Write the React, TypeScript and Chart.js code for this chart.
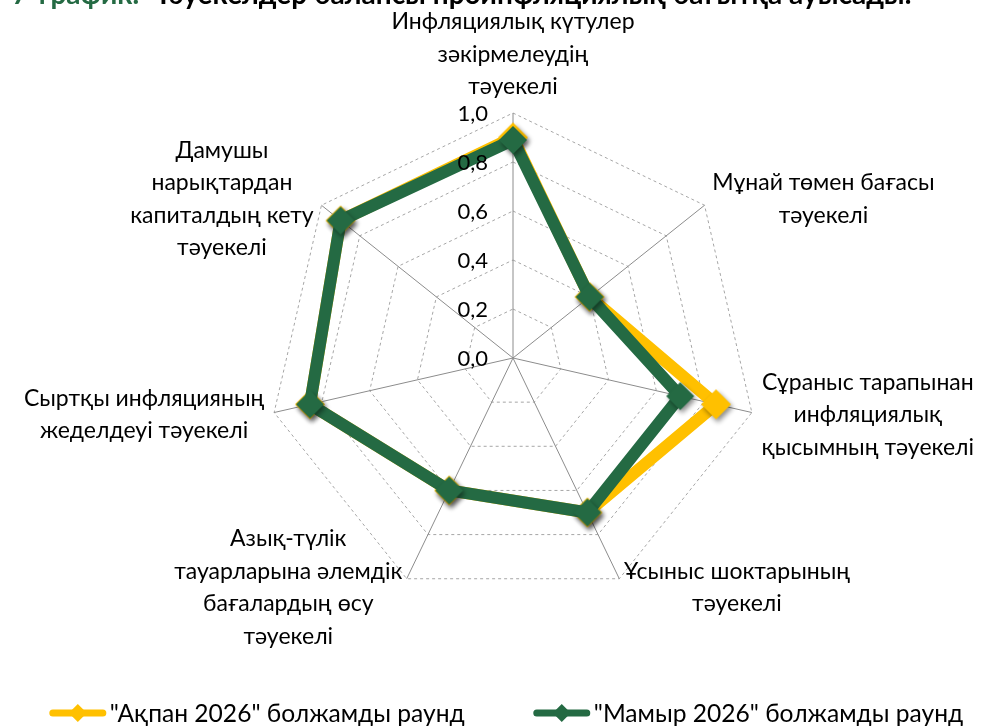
import React, { useEffect, useRef } from "react";
import { Chart, registerables } from "chart.js";

Chart.register(...registerables);

const categories: string[][] = [
  ["Инфляциялық күтулер", "зәкірмелеудің", "тәуекелі"],
  ["Мұнай төмен бағасы", "тәуекелі"],
  ["Сұраныс тарапынан", "инфляциялық", "қысымның тәуекелі"],
  ["Ұсыныс шоктарының", "тәуекелі"],
  ["Азық-түлік", "тауарларына әлемдік", "бағалардың өсу", "тәуекелі"],
  ["Сыртқы инфляцияның", "жеделдеуі тәуекелі"],
  ["Дамушы", "нарықтардан", "капиталдың кету", "тәуекелі"],
];
const seriesNames = ['"Ақпан 2026" болжамды раунд', '"Мамыр 2026" болжамды раунд'];
const februaryRound = [0.9, 0.4, 0.85, 0.7, 0.6, 0.85, 0.9];
const mayRound = [0.89, 0.4, 0.7, 0.7, 0.6, 0.85, 0.9];
const tickValues = [0, 0.2, 0.4, 0.6, 0.8, 1.0];
const titleNumber = "7-график.";
const titleText = "Тәуекелдер балансы проинфляциялық бағытқа ауысады.";

const FONT = "Lato";
const YELLOW = "#FFC000";
const GREEN = "#246A43";

function makeMarker(color: string, r: number): HTMLCanvasElement {
  const pad = 8;
  const c = document.createElement("canvas");
  c.width = (r + pad) * 2;
  c.height = (r + pad) * 2;
  const g = c.getContext("2d")!;
  const cx = c.width / 2;
  const cy = c.height / 2;
  g.shadowColor = "rgba(0,0,0,0.45)";
  g.shadowBlur = 5;
  g.shadowOffsetX = 2;
  g.shadowOffsetY = 3;
  g.fillStyle = color;
  g.beginPath();
  g.moveTo(cx, cy - r);
  g.lineTo(cx + r, cy);
  g.lineTo(cx, cy + r);
  g.lineTo(cx - r, cy);
  g.closePath();
  g.fill();
  return c;
}

const fmt = (v: number) => v.toFixed(1).replace(".", ",");

const drawPlugin = {
  id: "customText",
  afterDraw(chart: any) {
    const scale = chart.scales.r;
    const ctx: CanvasRenderingContext2D = chart.ctx;
    ctx.save();
    // tick labels
    ctx.font = `22px ${FONT}`;
    ctx.fillStyle = "#000";
    ctx.textAlign = "right";
    ctx.textBaseline = "middle";
    scale.ticks.forEach((t: any) => {
      const p = scale.getPointPositionForValue(0, t.value);
      ctx.fillText(fmt(t.value), scale.xCenter - 25, p.y + 1);
    });
    // point labels
    const labels: string[][] = chart.data.labels;
    const n = labels.length;
    const lh = 32.5;
    ctx.font = `23px ${FONT}`;
    ctx.textAlign = "center";
    ctx.textBaseline = "middle";
    labels.forEach((lines, i) => {
      const p = scale.getPointPosition(i, scale.drawingArea + 10);
      const ang = (i * 360) / n;
      const w = Math.max(...lines.map((l) => ctx.measureText(l).width));
      const h = lines.length * lh;
      let cx: number;
      let top: number;
      if (ang === 0) {
        cx = p.x;
        top = p.y - h;
      } else if (ang < 180) {
        cx = p.x + w / 2;
        top = p.y - h / 2;
      } else {
        cx = p.x - w / 2;
        top = p.y - h / 2;
      }
      lines.forEach((l, k) => ctx.fillText(l, cx, top + lh * (k + 0.5)));
    });
    // legend
    ctx.font = `24.6px ${FONT}`;
    ctx.textAlign = "left";
    ctx.textBaseline = "middle";
    const ds = chart.data.datasets;
    const iconW = 58;
    const gapIcon = 3;
    const itemGap = 68;
    const widths = ds.map((d: any) => iconW + gapIcon + ctx.measureText(d.label).width);
    const total = widths.reduce((a: number, b: number) => a + b, 0) + itemGap * (ds.length - 1);
    let x = 506 - total / 2;
    const y = 713;
    ds.forEach((d: any, i: number) => {
      ctx.strokeStyle = d.borderColor;
      ctx.lineWidth = 7;
      ctx.lineCap = "round";
      ctx.beginPath();
      ctx.moveTo(x + 4, y);
      ctx.lineTo(x + iconW - 4, y);
      ctx.stroke();
      ctx.fillStyle = d.borderColor;
      ctx.beginPath();
      ctx.moveTo(x + iconW / 2, y - 9);
      ctx.lineTo(x + iconW / 2 + 9, y);
      ctx.lineTo(x + iconW / 2, y + 9);
      ctx.lineTo(x + iconW / 2 - 9, y);
      ctx.closePath();
      ctx.fill();
      ctx.fillStyle = "#000";
      ctx.fillText(d.label, x + iconW + gapIcon, y + 1);
      x += widths[i] + itemGap;
    });
    // title (cut at top)
    ctx.font = `bold 28px ${FONT}`;
    ctx.textBaseline = "alphabetic";
    ctx.fillStyle = GREEN;
    ctx.fillText(titleNumber, 12, 4);
    ctx.fillStyle = "#000";
    ctx.fillText(titleText, 155, 4);
    ctx.restore();
  },
};

export default function App() {
  const ref = useRef<HTMLCanvasElement>(null);
  useEffect(() => {
    if (!ref.current) return;
    const chart = new Chart(ref.current, {
      type: "radar",
      data: {
        labels: categories,
        datasets: [
          {
            label: seriesNames[0],
            data: februaryRound,
            borderColor: YELLOW,
            backgroundColor: "transparent",
            borderWidth: 12,
            borderJoinStyle: "round",
            fill: false,
            pointStyle: makeMarker(YELLOW, 15) as any,
            pointRadius: 15,
            order: 1,
          },
          {
            label: seriesNames[1],
            data: mayRound,
            borderColor: GREEN,
            backgroundColor: "transparent",
            borderWidth: 12,
            borderJoinStyle: "round",
            fill: false,
            pointStyle: makeMarker(GREEN, 14) as any,
            pointRadius: 14,
            order: 0,
          },
        ],
      },
      options: {
        responsive: false,
        animation: false,
        devicePixelRatio: 1,
        events: [],
        layout: { padding: { left: 268, right: 232, top: 113, bottom: 123 } },
        plugins: { legend: { display: false }, tooltip: { enabled: false }, title: { display: false } },
        scales: {
          r: {
            min: 0,
            max: 1,
            ticks: { display: false, stepSize: 0.2 },
            afterBuildTicks: (s: any) => {
              s.ticks = tickValues.map((v) => ({ value: v }));
            },
            grid: { color: "#A6A6A6", lineWidth: 1 },
            border: { dash: [3, 3] },
            angleLines: { display: true, color: "#8C8C8C", lineWidth: 1 },
            pointLabels: { display: false },
          },
        },
      },
      plugins: [drawPlugin],
    });
    return () => chart.destroy();
  }, []);
  return (
    <div style={{ position: "absolute", left: 0, top: 0, width: 990, height: 726, background: "#fff" }}>
      <canvas ref={ref} width={990} height={726} style={{ display: "block" }} />
    </div>
  );
}
